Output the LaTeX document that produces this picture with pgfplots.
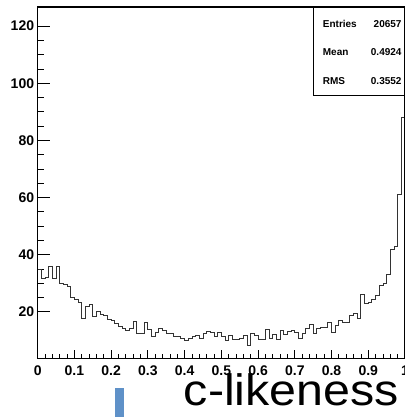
\documentclass[border=0pt]{standalone}
\usepackage{fontspec}
\setmainfont{Liberation Sans}
\usepackage{pgfplots}
\pgfplotsset{compat=1.18}
\usepackage{pgfplotstable}
\definecolor{barblue}{RGB}{95,145,200}

% c-likeness histogram, 100 bins on [0,1] (left bin edge, content)
\pgfplotstableread{
x y
0.00 35
0.01 31.7
0.02 32
0.03 36
0.04 31.7
0.05 36
0.06 30
0.07 29.5
0.08 28.8
0.09 25
0.10 24.3
0.11 23.3
0.12 17.7
0.13 22
0.14 22.5
0.15 18.5
0.16 20
0.17 19.2
0.18 18.9
0.19 17.5
0.20 17
0.21 16
0.22 15
0.23 14.2
0.24 13.5
0.25 14.2
0.26 16.6
0.27 12.5
0.28 12.5
0.29 16.4
0.30 14
0.31 11.3
0.32 12.8
0.33 14.2
0.34 13.6
0.35 12.5
0.36 12.6
0.37 11.4
0.38 11.3
0.39 10.8
0.40 10.1
0.41 10.8
0.42 11.5
0.43 11.8
0.44 10.8
0.45 12.3
0.46 13.1
0.47 12.7
0.48 11.3
0.49 12.8
0.50 11.3
0.51 10.1
0.52 11.9
0.53 10.4
0.54 10.4
0.55 10.8
0.56 11.9
0.57 8.4
0.58 12.3
0.59 11.9
0.60 10.4
0.61 10.4
0.62 13.7
0.63 10.8
0.64 12.1
0.65 10.4
0.66 13.4
0.67 12
0.68 13.1
0.69 13.4
0.70 12.8
0.71 10.8
0.72 12.5
0.73 14.2
0.74 15.7
0.75 12.4
0.76 14.2
0.77 14.6
0.78 14.6
0.79 16.2
0.80 12.7
0.81 15.1
0.82 16.9
0.83 16.2
0.84 16.2
0.85 18.9
0.86 19.5
0.87 17.7
0.88 26
0.89 22.9
0.90 23.4
0.91 24.5
0.92 25.9
0.93 29.4
0.94 30
0.95 33.2
0.96 42
0.97 43
0.98 61
0.99 88
1.00 88
}\histdata

\pgfplotsset{
  histframe/.style={
    at={(37.7bp,58.7bp)}, anchor=south west,
    scale only axis, width=367.3bp, height=351.3bp,
    xmin=0, xmax=1, ymin=3.74, ymax=126.7,
    axis line style={black, line width=1.5bp},
    tick align=inside, tick pos=left,
    major tick style={black, line width=0.8bp},
    minor tick style={black, line width=0.8bp},
    ticklabel style={font=\fontsize{14bp}{16bp}\selectfont\bfseries},
  },
}

\begin{document}
\begin{tikzpicture}
\useasboundingbox (0bp,0bp) rectangle (405bp,417bp);
\begin{pgfinterruptboundingbox}
\begin{scope}
\clip (0bp,0bp) rectangle (405bp,417bp);

% y axis ticks, frame and histogram
\begin{axis}[histframe,
    xtick=\empty,
    ytick={20,40,60,80,100,120},
    yticklabels={20,40,60,80,100,120},
    minor y tick num=3,
    major tick length=12bp, minor tick length=6bp,
    yticklabel style={anchor=east, inner sep=0pt, xshift=-3.4bp},
  ]
  \addplot[const plot mark left, black!80, line width=0.9bp] table[x=x, y=y] {\histdata};
\end{axis}

% x axis ticks with shorter tick marks
\begin{axis}[histframe,
    ytick=\empty,
    xtick={0,0.1,0.2,0.3,0.4,0.5,0.6,0.7,0.8,0.9,1},
    xticklabels={0,0.1,0.2,0.3,0.4,0.5,0.6,0.7,0.8,0.9,1},
    minor x tick num=4,
    major tick length=8bp, minor tick length=4.5bp,
    xticklabel style={anchor=north, inner sep=0pt, yshift=-7.7bp},
  ]
\end{axis}

% statistics box
\draw[black, line width=0.8bp] (313.3bp,410bp) -- (313.3bp,322bp) -- (406bp,322bp);
\begin{scope}[every node/.style={inner sep=0pt, font=\fontsize{10bp}{12bp}\selectfont\bfseries}]
  \node[anchor=base west] at (322.7bp,389.7bp) {Entries};
  \node[anchor=base east] at (401.7bp,389.7bp) {20657};
  \node[anchor=base west] at (322.7bp,361bp) {Mean};
  \node[anchor=base east] at (401.7bp,361bp) {0.4924};
  \node[anchor=base west] at (322.7bp,332.7bp) {RMS};
  \node[anchor=base east] at (401.7bp,332.7bp) {0.3552};
\end{scope}

% axis title
\node[anchor=base, inner sep=0pt, xscale=1.1, font=\fontsize{44bp}{44bp}\selectfont] at (291.5bp,11.3bp) {c-likeness};

% blue bar fragment
\fill[barblue] (115bp,0bp) rectangle (124bp,29bp);
\end{scope}
\end{pgfinterruptboundingbox}
\end{tikzpicture}
\end{document}
